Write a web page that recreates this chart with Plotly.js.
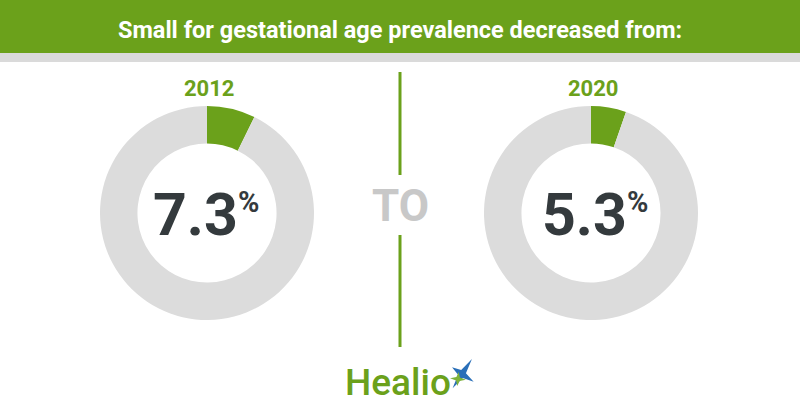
<!DOCTYPE html>
<html>
<head>
<meta charset="utf-8">
<script src="https://cdn.plot.ly/plotly-3.0.1.min.js"></script>
<style>html,body{margin:0;padding:0;background:#fff;}#chart{width:800px;height:420px;}</style>
</head>
<body>
<div id="chart"></div>
<script>
const title = "Small for gestational age prevalence decreased from:";
const years = ["2012", "2020"];
const prevalence = [7.3, 5.3];
const sliceLabels = ["Small for gestational age", "Other"];
const connector = "TO";
const brand = "Healio";

const green = "#6ba11b";
const ringGray = "#dcdcdc";
const dark = "#343a3d";

const W = 800, H = 420;
const centers = [[207, 213], [591, 213]];
const numRight = [238, 627];
const R = 107;

function px(x) { return x / W; }
function py(y) { return 1 - y / H; }

const traces = prevalence.map((v, i) => ({
  type: "pie",
  values: [v, 100 - v],
  labels: sliceLabels,
  sort: false,
  direction: "clockwise",
  rotation: 0,
  hole: 0.65,
  textinfo: "none",
  hoverinfo: "skip",
  showlegend: false,
  marker: { colors: [green, ringGray], line: { width: 0 } },
  domain: {
    x: [px(centers[i][0] - R), px(centers[i][0] + R)],
    y: [py(centers[i][1] + R), py(centers[i][1] - R)]
  }
}));

const annotations = [];
annotations.push({
  text: "<b>" + title + "</b>", x: 0.5, y: py(30), xref: "paper", yref: "paper",
  showarrow: false, xanchor: "center", yanchor: "middle",
  font: { family: "Roboto", size: 23.5, color: "#ffffff" }
});
years.forEach((yr, i) => {
  annotations.push({
    text: "<b>" + yr + "</b>", x: px(centers[i][0] + 2), y: py(88), xref: "paper", yref: "paper",
    showarrow: false, xanchor: "center", yanchor: "middle",
    font: { family: "Roboto", size: 22, color: green }
  });
  annotations.push({
    text: "<b>" + prevalence[i].toFixed(1) + "</b>", x: px(numRight[i] + 2), y: py(214),
    xref: "paper", yref: "paper", showarrow: false, xanchor: "right", yanchor: "middle",
    font: { family: "Roboto", size: 59, color: dark }
  });
  annotations.push({
    text: "<b>%</b>", x: px(numRight[i] - 2), y: py(202),
    xref: "paper", yref: "paper", showarrow: false, xanchor: "left", yanchor: "middle",
    font: { family: "Roboto", size: 29, color: dark }
  });
});
annotations.push({
  text: "<b>" + connector + "</b>", x: px(400), y: py(206), xref: "paper", yref: "paper",
  showarrow: false, xanchor: "center", yanchor: "middle",
  font: { family: "Roboto", size: 44, color: "#c8c8c8" }
});
annotations.push({
  text: brand, x: px(398), y: py(382), xref: "paper", yref: "paper",
  showarrow: false, xanchor: "center", yanchor: "middle",
  font: { family: "Roboto", size: 37, color: green, weight: 500 }
});

function star(cx, cy, rOut, rIn, rot) {
  let d = "";
  for (let k = 0; k < 8; k++) {
    const r = k % 2 === 0 ? rOut[k / 2] : rIn;
    const a = rot + k * Math.PI / 4;
    const x = px(cx + r * Math.cos(a));
    const y = py(cy + r * Math.sin(a));
    d += (k === 0 ? "M" : "L") + x + "," + y;
  }
  return d + "Z";
}

const shapes = [
  { type: "rect", xref: "paper", yref: "paper", x0: 0, x1: 1, y0: py(53), y1: 1, fillcolor: green, line: { width: 0 }, layer: "below" },
  { type: "rect", xref: "paper", yref: "paper", x0: 0, x1: 1, y0: py(62), y1: py(53), fillcolor: "#dadada", line: { width: 0 }, layer: "below" },
  { type: "line", xref: "paper", yref: "paper", x0: px(400), x1: px(400), y0: py(72), y1: py(175), line: { color: green, width: 3 } },
  { type: "line", xref: "paper", yref: "paper", x0: px(400), x1: px(400), y0: py(235), y1: py(347), line: { color: green, width: 3 } },
  { type: "path", xref: "paper", yref: "paper", path: star(462, 374, [18, 14, 17, 12], 4, -Math.PI / 4 - 0.2), fillcolor: "#2a6fb8", line: { width: 0 } },
  { type: "path", xref: "paper", yref: "paper", path: star(458, 379, [8, 7, 8, 7], 2.5, 0.1), fillcolor: "#7fb33a", line: { width: 0 } }
];

const layout = {
  width: W, height: H,
  margin: { l: 0, r: 0, t: 0, b: 0 },
  paper_bgcolor: "#ffffff",
  plot_bgcolor: "#ffffff",
  showlegend: false,
  annotations: annotations,
  shapes: shapes
};

Plotly.newPlot("chart", traces, layout, { displayModeBar: false, staticPlot: true });
</script>
</body>
</html>
